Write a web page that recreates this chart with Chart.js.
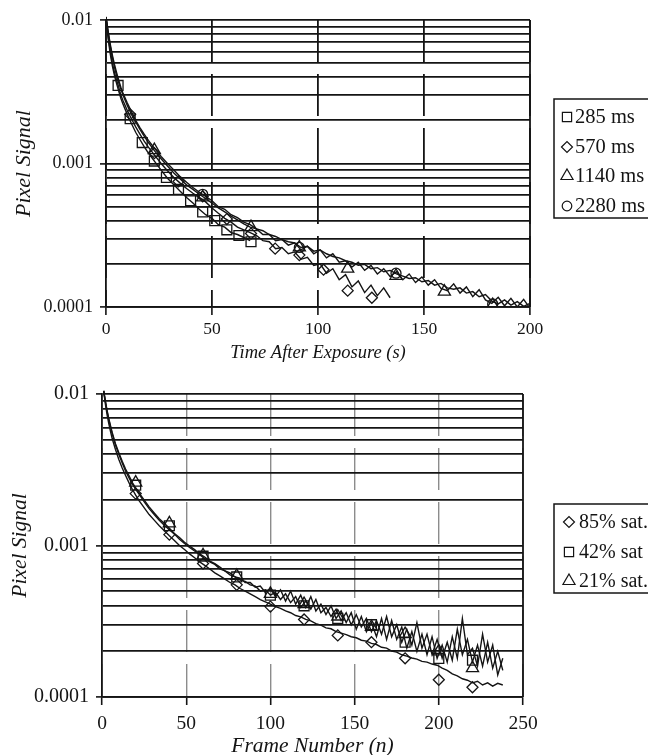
<!DOCTYPE html>
<html>
<head>
<meta charset="utf-8">
<script src="https://cdn.jsdelivr.net/npm/chart.js@4.4.1/dist/chart.umd.min.js"></script>
<style>
  html, body { margin: 0; padding: 0; background: #fff; }
  #wrap { position: relative; width: 648px; height: 755px; overflow: hidden; }
  .panel { position: absolute; left: 0; }
  #top-panel { top: 0; }
  #bottom-panel { top: 365px; }
</style>
</head>
<body>
<div id="wrap">
  <div class="panel" id="top-panel"><canvas id="decay" width="648" height="365"></canvas></div>
  <div class="panel" id="bottom-panel"><canvas id="frames" width="648" height="390"></canvas></div>
</div>
<script>
// ---------- shared log axis ----------
const logGrid = [1e-4, 2e-4, 3e-4, 4e-4, 5e-4, 6e-4, 7e-4, 8e-4, 9e-4,
                 1e-3, 2e-3, 3e-3, 4e-3, 5e-3, 6e-3, 7e-3, 8e-3, 9e-3, 1e-2];
const logLabels = ['0.0001', '', '', '', '', '', '', '', '',
                   '0.001', '', '', '', '', '', '', '', '', '0.01'];

// ---------- top: signal vs time after exposure ----------
const timeTicks = [0, 50, 100, 150, 200];
const timeGrid = [0, 1, 2, 3, 4, 5, 6, 7, 8, 10, 12, 14, 16, 18, 20,
  23, 26, 29, 32, 35, 38, 41, 44, 47, 50, 53, 56, 59, 62, 65, 68,
  71, 74, 77, 80, 83, 86, 89, 92, 95, 98, 101, 104, 107, 110, 113, 116, 119, 122, 125,
  128, 131, 134, 137, 140, 143, 146, 149, 152, 155, 158, 161, 164, 167, 170, 173, 176,
  179, 182, 185, 188, 191, 194, 197, 200, 203];

const sig285 = [1.05e-2, 7.4e-3, 5.8e-3, 4.8e-3, 4.1e-3, 3.6e-3, 3.2e-3, 2.85e-3, 2.6e-3,
  2.2e-3, 1.9e-3, 1.65e-3, 1.47e-3, 1.31e-3, 1.18e-3,
  1.03e-3, 9.0e-4, 7.9e-4, 7.1e-4, 6.4e-4, 5.8e-4, 5.3e-4, 4.8e-4, 4.4e-4, 4.15e-4,
  3.75e-4, 3.6e-4, 3.3e-4, 3.2e-4, 3.05e-4, 2.9e-4];
const sig570 = [1.05e-2, 7.8e-3, 6.1e-3, 5.0e-3, 4.3e-3, 3.8e-3, 3.4e-3, 3.0e-3, 2.75e-3,
  2.35e-3, 2.05e-3, 1.8e-3, 1.6e-3, 1.43e-3, 1.3e-3,
  1.14e-3, 1.0e-3, 8.9e-4, 8.0e-4, 7.3e-4, 6.7e-4, 6.2e-4, 5.8e-4, 5.4e-4, 4.9e-4,
  4.5e-4, 4.15e-4, 3.9e-4, 3.6e-4, 3.45e-4, 3.3e-4,
  3.15e-4, 2.9e-4, 2.85e-4, 2.55e-4, 2.6e-4, 2.35e-4, 2.42e-4, 2.15e-4, 2.22e-4, 1.95e-4,
  2.0e-4, 1.72e-4, 1.85e-4, 1.55e-4, 1.68e-4, 1.38e-4, 1.52e-4, 1.26e-4, 1.42e-4, 1.2e-4,
  1.36e-4, 1.16e-4];
const sig1140 = [1.05e-2, 8.2e-3, 6.6e-3, 5.5e-3, 4.7e-3, 4.1e-3, 3.65e-3, 3.3e-3, 3.0e-3,
  2.55e-3, 2.2e-3, 1.95e-3, 1.73e-3, 1.55e-3, 1.4e-3,
  1.22e-3, 1.08e-3, 9.6e-4, 8.6e-4, 7.8e-4, 7.1e-4, 6.6e-4, 6.1e-4, 5.7e-4, 5.3e-4,
  4.9e-4, 4.6e-4, 4.3e-4, 4.05e-4, 3.8e-4, 3.6e-4,
  3.5e-4, 3.2e-4, 3.2e-4, 2.9e-4, 2.95e-4, 2.7e-4, 2.8e-4, 2.5e-4, 2.65e-4, 2.35e-4,
  2.5e-4, 2.2e-4, 2.35e-4, 2.05e-4, 2.1e-4, 1.9e-4, 2.05e-4, 1.8e-4, 1.95e-4, 1.7e-4,
  1.85e-4, 1.63e-4, 1.76e-4, 1.55e-4, 1.7e-4, 1.48e-4, 1.62e-4, 1.42e-4, 1.55e-4, 1.35e-4,
  1.3e-4, 1.45e-4, 1.25e-4, 1.38e-4, 1.18e-4, 1.32e-4, 1.12e-4, 1.06e-4, 1.17e-4, 1.02e-4,
  1.15e-4, 1.0e-4, 1.13e-4, 0.98e-4, 1.1e-4];
const sig2280 = [1.05e-2, 8.4e-3, 6.8e-3, 5.7e-3, 4.9e-3, 4.3e-3, 3.8e-3, 3.4e-3, 3.1e-3,
  2.65e-3, 2.3e-3, 2.0e-3, 1.78e-3, 1.6e-3, 1.45e-3,
  1.27e-3, 1.12e-3, 1.0e-3, 9.0e-4, 8.1e-4, 7.4e-4, 6.8e-4, 6.3e-4, 5.9e-4, 5.5e-4,
  5.0e-4, 4.8e-4, 4.4e-4, 4.2e-4, 3.9e-4, 3.75e-4,
  3.5e-4, 3.4e-4, 3.2e-4, 3.1e-4, 2.95e-4, 2.85e-4, 2.8e-4, 2.6e-4, 2.65e-4, 2.45e-4,
  2.5e-4, 2.35e-4, 2.25e-4, 2.2e-4, 2.1e-4, 2.05e-4, 1.95e-4, 1.98e-4, 1.85e-4, 1.88e-4,
  1.76e-4, 1.8e-4, 1.7e-4, 1.64e-4, 1.58e-4, 1.6e-4, 1.5e-4, 1.53e-4, 1.42e-4, 1.46e-4,
  1.36e-4, 1.33e-4, 1.36e-4, 1.25e-4, 1.28e-4, 1.18e-4, 1.22e-4, 1.1e-4, 1.05e-4, 1.12e-4,
  1.03e-4, 1.09e-4, 1.01e-4, 1.06e-4, 1.0e-4];

// symbols sit on every 20th frame
const mark285T = [5.7, 11.4, 17.1, 22.8, 28.5, 34.2, 39.9, 45.6, 51.3, 57.0, 62.7, 68.4];
const mark285V = [3.5e-3, 2.05e-3, 1.4e-3, 1.04e-3, 8.0e-4, 6.6e-4, 5.5e-4, 4.6e-4, 4.0e-4, 3.45e-4, 3.15e-4, 2.85e-4];
const mark570T = [11.4, 22.8, 34.2, 45.6, 57.0, 68.4, 79.8, 91.2, 102.6, 114.0, 125.4];
const mark570V = [2.2e-3, 1.18e-3, 7.5e-4, 5.9e-4, 4.1e-4, 3.25e-4, 2.55e-4, 2.3e-4, 1.82e-4, 1.3e-4, 1.16e-4];
const mark1140T = [22.8, 45.6, 68.4, 91.2, 114.0, 136.8, 159.6, 182.4];
const mark1140V = [1.24e-3, 5.8e-4, 3.6e-4, 2.6e-4, 1.85e-4, 1.65e-4, 1.28e-4, 1.03e-4];
const mark2280T = [45.6, 91.2, 136.8, 182.4];
const mark2280V = [6.1e-4, 2.6e-4, 1.72e-4, 1.05e-4];

// ---------- bottom: signal vs frame number ----------
const frameTicks = [0, 50, 100, 150, 200, 250];
const frameGrid = [1, 2, 3, 4, 5, 6, 8, 10, 12, 14, 16, 18, 20, 22,
  25, 28, 31, 34, 37, 40, 43, 46, 49, 52, 55, 58, 61, 64, 67, 70, 73, 76, 79, 82, 85, 88, 91, 94, 97,
  100, 103, 106, 109, 112, 115, 118, 121, 124, 127, 130, 133, 136, 139, 142, 145, 148, 151, 154,
  157, 160, 163, 166, 169, 172, 175, 178, 181, 184, 187, 190, 193, 196, 199, 202, 205, 208, 211,
  214, 217, 220, 223, 226, 229, 232, 235, 238];

const sat85 = [1.05e-2, 8.6e-3, 7.3e-3, 6.4e-3, 5.7e-3, 5.1e-3, 4.3e-3, 3.7e-3, 3.25e-3, 2.9e-3,
  2.6e-3, 2.35e-3, 2.15e-3, 1.98e-3,
  1.78e-3, 1.6e-3, 1.47e-3, 1.35e-3, 1.25e-3, 1.16e-3, 1.08e-3, 1.0e-3, 9.4e-4, 8.8e-4,
  8.3e-4, 7.8e-4, 7.4e-4, 7.0e-4, 6.6e-4, 6.3e-4, 6.0e-4, 5.7e-4, 5.5e-4, 5.2e-4,
  5.0e-4, 4.8e-4, 4.6e-4, 4.4e-4, 4.25e-4,
  4.1e-4, 3.95e-4, 3.85e-4, 3.7e-4, 3.6e-4, 3.45e-4, 3.38e-4, 3.25e-4, 3.18e-4, 3.05e-4,
  2.98e-4, 2.86e-4, 2.82e-4, 2.7e-4, 2.64e-4, 2.58e-4, 2.5e-4, 2.46e-4, 2.37e-4, 2.34e-4,
  2.26e-4, 2.22e-4, 2.13e-4, 2.1e-4, 2.01e-4, 1.98e-4, 1.9e-4, 1.86e-4, 1.81e-4, 1.78e-4,
  1.72e-4, 1.7e-4, 1.65e-4, 1.62e-4, 1.55e-4, 1.5e-4, 1.42e-4, 1.38e-4, 1.32e-4, 1.29e-4,
  1.24e-4, 1.27e-4, 1.2e-4, 1.24e-4, 1.18e-4, 1.23e-4, 1.2e-4];
const sat42 = [1.05e-2, 8.9e-3, 7.7e-3, 6.8e-3, 6.1e-3, 5.5e-3, 4.6e-3, 4.0e-3, 3.5e-3, 3.1e-3,
  2.8e-3, 2.55e-3, 2.35e-3, 2.18e-3,
  1.95e-3, 1.75e-3, 1.6e-3, 1.47e-3, 1.36e-3, 1.27e-3, 1.19e-3, 1.1e-3, 1.03e-3, 9.7e-4,
  9.2e-4, 8.7e-4, 8.2e-4, 7.8e-4, 7.5e-4, 7.0e-4, 6.8e-4, 6.4e-4, 6.2e-4, 5.9e-4,
  5.8e-4, 5.5e-4, 5.4e-4, 5.0e-4, 5.1e-4,
  4.7e-4, 4.9e-4, 4.4e-4, 4.8e-4, 4.2e-4, 4.6e-4, 3.9e-4, 4.3e-4, 3.8e-4, 4.4e-4,
  3.6e-4, 3.9e-4, 3.4e-4, 3.8e-4, 3.2e-4, 3.6e-4, 3.0e-4, 3.5e-4, 2.9e-4, 3.3e-4,
  2.7e-4, 3.2e-4, 2.6e-4, 3.4e-4, 2.5e-4, 3.0e-4, 2.3e-4, 2.8e-4, 2.2e-4, 3.1e-4,
  2.1e-4, 2.6e-4, 1.9e-4, 2.4e-4, 1.8e-4, 2.3e-4, 1.75e-4, 2.8e-4, 1.9e-4, 2.4e-4,
  1.7e-4, 2.2e-4, 1.6e-4, 2.3e-4, 1.55e-4, 2.0e-4, 1.5e-4];
const sat21 = [1.05e-2, 9.0e-3, 7.8e-3, 6.9e-3, 6.2e-3, 5.6e-3, 4.7e-3, 4.1e-3, 3.6e-3, 3.2e-3,
  2.9e-3, 2.6e-3, 2.4e-3, 2.22e-3,
  2.0e-3, 1.8e-3, 1.64e-3, 1.5e-3, 1.4e-3, 1.3e-3, 1.2e-3, 1.13e-3, 1.05e-3, 9.9e-4,
  9.4e-4, 8.8e-4, 8.4e-4, 7.9e-4, 7.6e-4, 7.2e-4, 6.8e-4, 6.6e-4, 6.2e-4, 6.1e-4,
  5.7e-4, 5.7e-4, 5.3e-4, 5.4e-4, 4.9e-4,
  5.2e-4, 4.6e-4, 5.1e-4, 4.3e-4, 5.0e-4, 4.1e-4, 4.7e-4, 3.9e-4, 4.6e-4, 3.7e-4,
  4.1e-4, 3.5e-4, 4.0e-4, 3.3e-4, 3.7e-4, 3.1e-4, 3.6e-4, 2.8e-4, 3.4e-4, 2.7e-4,
  3.1e-4, 2.5e-4, 3.3e-4, 2.4e-4, 3.2e-4, 2.4e-4, 2.9e-4, 2.1e-4, 2.7e-4, 2.0e-4,
  2.6e-4, 1.9e-4, 2.5e-4, 1.8e-4, 2.2e-4, 1.7e-4, 2.5e-4, 1.8e-4, 3.3e-4, 1.9e-4,
  2.1e-4, 1.6e-4, 2.6e-4, 1.7e-4, 2.2e-4, 1.4e-4, 1.8e-4];

const markFrames = [20, 40, 60, 80, 100, 120, 140, 160, 180, 200, 220];
const mark85V = [2.2e-3, 1.18e-3, 7.6e-4, 5.5e-4, 3.95e-4, 3.25e-4, 2.55e-4, 2.3e-4, 1.8e-4, 1.3e-4, 1.16e-4];
const mark42V = [2.5e-3, 1.35e-3, 8.5e-4, 6.2e-4, 4.7e-4, 4.0e-4, 3.3e-4, 3.0e-4, 2.3e-4, 1.8e-4, 1.75e-4];
const mark21V = [2.6e-3, 1.4e-3, 8.6e-4, 6.3e-4, 4.8e-4, 4.1e-4, 3.4e-4, 2.9e-4, 2.6e-4, 2.0e-4, 1.55e-4];

// ---------- helpers ----------
const INK = '#141414';
const SERIF = '"Liberation Serif", "Times New Roman", serif';

const zip = (xs, ys) => ys.map((y, i) => ({ x: xs[i], y: y }));

const traceLine = (xs, ys) => ({
  data: zip(xs, ys),
  showLine: true,
  borderColor: INK,
  borderWidth: 1.4,
  pointRadius: 0,
  tension: 0,
  clip: { left: 0, top: 6, right: 8, bottom: 0 }
});

const symbols = (label, xs, ys, style, r, legendR) => ({
  label: label,
  legendMark: true,
  legendRadius: legendR,
  data: zip(xs, ys),
  showLine: false,
  pointStyle: style,
  pointRadius: r,
  pointBorderColor: INK,
  pointBackgroundColor: 'rgba(0,0,0,0)',
  pointBorderWidth: 1.3
});

// legend in a plain rectangle, symbol then text
const boxLegend = {
  id: 'boxLegend',
  afterDraw(chart, args, opts) {
    const ctx = chart.ctx;
    const b = opts.box;
    ctx.save();
    ctx.lineWidth = 1.5;
    ctx.strokeStyle = INK;
    ctx.strokeRect(b.left, b.top, b.width, b.height);
    ctx.font = opts.font;
    ctx.textBaseline = 'middle';
    const marks = chart.data.datasets.filter(d => d.legendMark);
    marks.forEach((d, i) => {
      const y = opts.rowY[i];
      ctx.strokeStyle = INK;
      ctx.fillStyle = 'rgba(0,0,0,0)';
      ctx.lineWidth = 1.2;
      Chart.helpers.drawPoint(ctx, { pointStyle: d.pointStyle, radius: d.legendRadius, rotation: 0, borderWidth: 1.2 }, opts.markX, y);
      ctx.fillStyle = INK;
      ctx.fillText(d.label, opts.textX, y + 1);
    });
    ctx.restore();
  }
};

// solid right edge of the plot
const plotFrame = {
  id: 'plotFrame',
  afterDraw(chart) {
    const { ctx, chartArea: a } = chart;
    ctx.save();
    ctx.strokeStyle = INK;
    ctx.lineWidth = 1.8;
    ctx.beginPath();
    ctx.moveTo(a.right, a.top);
    ctx.lineTo(a.right, a.bottom);
    ctx.stroke();
    ctx.restore();
  }
};

const logAxis = (width, fontSize, titleSize, titlePad) => ({
  type: 'logarithmic',
  min: 1e-4,
  max: 1e-2,
  afterBuildTicks: s => { s.ticks = logGrid.map(v => ({ value: v })); },
  afterFit: s => { s.width = width; },
  ticks: {
    autoSkip: false,
    padding: 7,
    color: INK,
    font: { family: SERIF, size: fontSize },
    callback: (v, i) => logLabels[i]
  },
  grid: {
    color: INK,
    lineWidth: 1.8,
    tickLength: 6,
    tickWidth: 1.6,
    tickColor: c => (logLabels[c.index] ? INK : 'rgba(0,0,0,0)')
  },
  border: { color: INK, width: 1.8 },
  title: {
    display: true,
    text: 'Pixel Signal',
    color: INK,
    font: { family: SERIF, size: titleSize, style: 'italic', lineHeight: 1 },
    padding: { top: titlePad }
  }
});

const linAxis = (min, max, tickVals, height, fontSize, title, titleSize, titlePad, gridColor, gridWidth, tickPad) => ({
  type: 'linear',
  min: min,
  max: max,
  afterBuildTicks: s => { s.ticks = tickVals.map(v => ({ value: v })); },
  afterFit: s => { s.height = height; },
  ticks: { padding: tickPad, color: INK, font: { family: SERIF, size: fontSize } },
  grid: { color: gridColor, lineWidth: gridWidth, tickLength: 8, tickWidth: 1.6, tickColor: INK },
  border: { color: INK, width: 1.8, dash: [42, 12] },
  title: {
    display: true,
    text: title,
    color: INK,
    font: { family: SERIF, size: titleSize, style: 'italic', lineHeight: 1 },
    padding: { bottom: titlePad }
  }
});

const baseOptions = {
  responsive: false,
  animation: false,
  events: []
};

// ---------- top chart ----------
new Chart(document.getElementById('decay'), {
  type: 'scatter',
  data: {
    datasets: [
      traceLine(timeGrid, sig285),
      traceLine(timeGrid, sig570),
      traceLine(timeGrid, sig1140),
      traceLine(timeGrid, sig2280),
      symbols('285 ms', mark285T, mark285V, 'rect', 7, 6.5),
      symbols('570 ms', mark570T, mark570V, 'rectRot', 5.5, 5.5),
      symbols('1140 ms', mark1140T, mark1140V, 'triangle', 7, 7),
      symbols('2280 ms', mark2280T, mark2280V, 'circle', 5, 4.8)
    ]
  },
  options: Object.assign({}, baseOptions, {
    layout: { padding: { left: 0, right: 118, top: 20, bottom: 0 } },
    scales: {
      x: linAxis(0, 200, timeTicks, 58, 17.5, 'Time After Exposure (s)', 18.5, 3, INK, 1.8, 4),
      y: logAxis(106, 18, 22, 13)
    },
    plugins: {
      legend: { display: false },
      tooltip: { enabled: false },
      boxLegend: {
        box: { left: 554, top: 99, width: 100, height: 119 },
        rowY: [117, 147, 176, 206],
        markX: 567,
        textX: 575,
        font: '20.5px ' + SERIF
      }
    }
  }),
  plugins: [boxLegend, plotFrame]
});

// ---------- bottom chart ----------
new Chart(document.getElementById('frames'), {
  type: 'scatter',
  data: {
    datasets: [
      traceLine(frameGrid, sat85),
      traceLine(frameGrid, sat42),
      traceLine(frameGrid, sat21),
      symbols('85% sat.', markFrames, mark85V, 'rectRot', 5.5, 5.5),
      symbols('42% sat', markFrames, mark42V, 'rect', 7, 6.5),
      symbols('21% sat.', markFrames, mark21V, 'triangle', 7, 7)
    ]
  },
  options: Object.assign({}, baseOptions, {
    layout: { padding: { left: 0, right: 125, top: 29, bottom: 0 } },
    scales: {
      x: linAxis(0, 250, frameTicks, 58, 19.5, 'Frame Number (n)', 21.5, -2, '#8c8c8c', 1.4, 7),
      y: logAxis(102, 20, 21.5, 10)
    },
    plugins: {
      legend: { display: false },
      tooltip: { enabled: false },
      boxLegend: {
        box: { left: 554, top: 139, width: 100, height: 89 },
        rowY: [157, 187, 216],
        markX: 569,
        textX: 579,
        font: '20px ' + SERIF
      }
    }
  }),
  plugins: [boxLegend, plotFrame]
});
</script>
</body>
</html>
